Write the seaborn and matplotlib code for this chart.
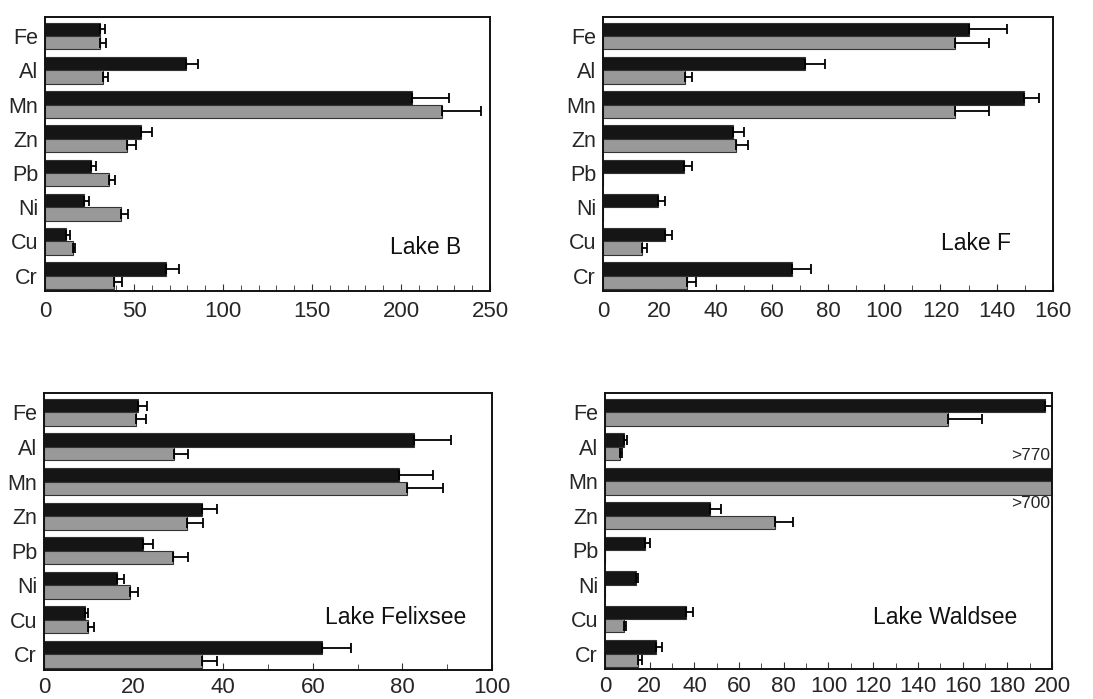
import numpy as np
import pandas as pd
import seaborn as sns
import matplotlib.pyplot as plt
from matplotlib.ticker import MultipleLocator

elements = ['Fe', 'Al', 'Mn', 'Zn', 'Pb', 'Ni', 'Cu', 'Cr']

# Lake B
b_black     = [31, 79, 206, 54, 26, 22, 12, 68]
b_black_err = [2.5, 7, 21, 6, 2.5, 2.5, 2, 7]
b_gray      = [31, 32.5, 223, 46, 36, 42.5, 15.7, 39]
b_gray_err  = [3.5, 3, 22, 5, 3.5, 4.3, 1.2, 4]

# Lake F
f_black     = [130.3, 71.7, 149.7, 46.2, 28.9, 19.6, 22.2, 67.2]
f_black_err = [13.3, 7.2, 5.2, 4, 2.9, 2.6, 2.2, 6.8]
f_gray      = [125, 29.3, 125, 47.2, 0, 0, 13.9, 29.7]
f_gray_err  = [12.4, 2.5, 12.4, 4.5, 0, 0, 1.6, 3.3]

# Lake Felixsee
x_black     = [20.9, 82.6, 79.2, 35.2, 22.1, 16.2, 9.2, 62.1]
x_black_err = [2, 8.3, 7.6, 3.5, 2.3, 1.6, 0.7, 6.4]
x_gray      = [20.6, 29.1, 81.1, 32, 28.9, 19.1, 9.8, 35.2]
x_gray_err  = [2.1, 3, 7.9, 3.5, 3.2, 1.8, 1.3, 3.5]

# Lake Waldsee (Mn off scale: >770 / >700)
w_black     = [197, 8.4, 770, 47, 18, 13.9, 36.4, 23]
w_black_err = [3.6, 1.3, 0, 4.8, 2.1, 0.7, 2.8, 2.5]
w_gray      = [153.5, 6.7, 700, 75.9, 0, 0, 8.4, 14.6]
w_gray_err  = [15, 0.8, 0, 8.1, 0, 0, 1, 2.1]

panels = [
    ('Lake B', b_black, b_black_err, b_gray, b_gray_err, 250, 50, (0.0412, 0.5837, 0.4071, 0.392), (0.856, 0.16), 7),
    ('Lake F', f_black, f_black_err, f_gray, f_gray_err, 160, 20, (0.5517, 0.5837, 0.4117, 0.392), (0.83, 0.175), 7),
    ('Lake Felixsee', x_black, x_black_err, x_gray, x_gray_err, 100, 20, (0.0403, 0.0415, 0.4098, 0.3963), (0.786, 0.188), 5),
    ('Lake Waldsee', w_black, w_black_err, w_gray, w_gray_err, 200, 20, (0.5535, 0.0429, 0.409, 0.3949), (0.76, 0.188), 5),
]

sns.set_style('white')
plt.rcParams['font.family'] = ['Liberation Sans', 'DejaVu Sans']

fig = plt.figure(figsize=(10.93, 6.99), dpi=100)

for name, blk, blk_err, gry, gry_err, xmax, major, rect, txt, pad in panels:
    ax = fig.add_axes(rect)
    df = pd.DataFrame({
        'element': elements * 2,
        'value': blk + gry,
        'series': ['a'] * 8 + ['b'] * 8,
    })
    sns.barplot(data=df, x='value', y='element', hue='series', order=elements,
                palette=['#151515', '#999999'], errorbar=None, width=0.78,
                gap=0, legend=False, ax=ax, orient='h',
                edgecolor='#333333', linewidth=0.8)
    for cont, vals, errs in zip(ax.containers, [blk, gry], [blk_err, gry_err]):
        ys = [p.get_y() + p.get_height() / 2 for p in cont.patches]
        for y, v, e in zip(ys, vals, errs):
            if e > 0:
                ax.errorbar(v, y, xerr=[[0], [e]], fmt='none', ecolor='black',
                            elinewidth=1.3, capsize=3.5, capthick=1.3)
    ax.set_xlim(0, xmax)
    ax.set_ylim(7.45, -0.56)
    ax.xaxis.set_major_locator(MultipleLocator(major))
    ax.xaxis.set_minor_locator(MultipleLocator(10))
    ax.tick_params(axis='x', which='both', direction='in', bottom=True,
                   labelsize=16, pad=pad, color='#333333')
    ax.tick_params(axis='x', which='major', length=5)
    ax.tick_params(axis='x', which='minor', length=4)
    ax.tick_params(axis='y', length=0, labelsize=15.5, pad=5)
    ax.set_xlabel('')
    ax.set_ylabel('')
    for s in ax.spines.values():
        s.set_visible(True)
        s.set_color('#111111')
        s.set_linewidth(1.4)
    ax.text(txt[0], txt[1], name, transform=ax.transAxes, fontsize=16.5,
            ha='center', va='center', color='#111111')
    if name == 'Lake Waldsee':
        ax.text(0.995, 0.772, '>770', transform=ax.transAxes, fontsize=12.5,
                ha='right', va='center')
        ax.text(0.995, 0.60, '>700', transform=ax.transAxes, fontsize=12.5,
                ha='right', va='center')

fig.savefig('out.png', dpi=100)
